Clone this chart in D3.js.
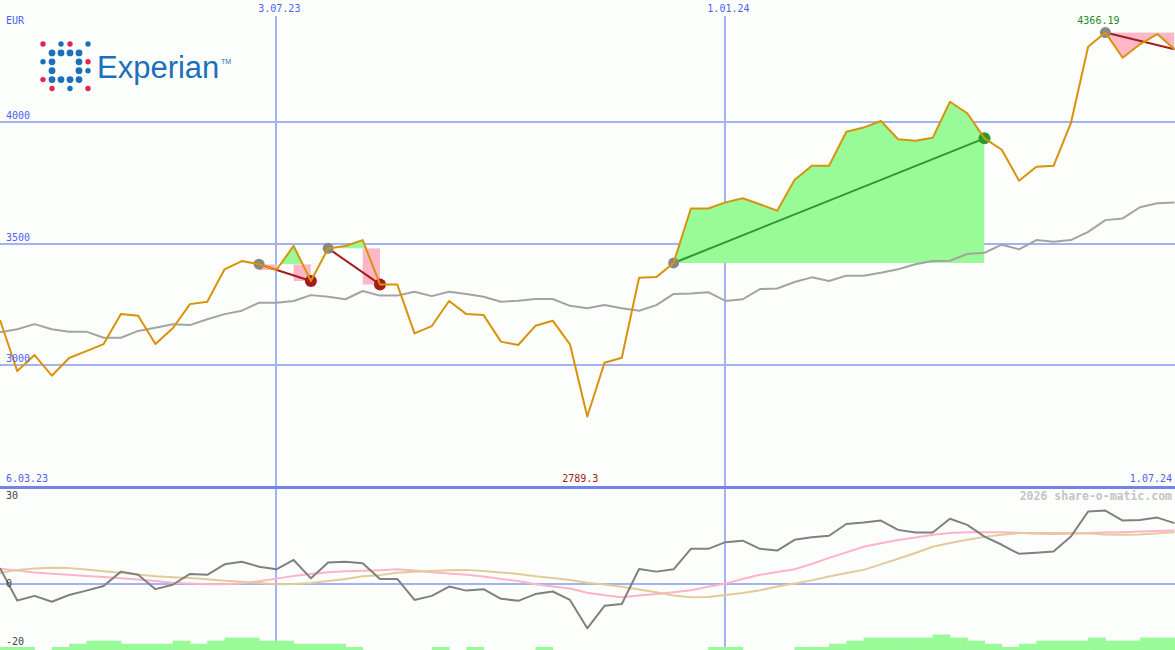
<!DOCTYPE html>
<html>
<head>
<meta charset="utf-8">
<script src="https://d3js.org/d3.v7.min.js"></script>
<style>
  html, body { margin: 0; padding: 0; background: #fcfefc; }
  svg { display: block; }
  .lbl { font-family: 'DejaVu Sans Mono', monospace; font-size: 10px; }
</style>
</head>
<body>
<div id="chart"></div>
<script>
// weekly closes, EUR (13.03.23 .. 1.07.24)
const firstWeek = new Date(2023, 2, 13)
const lastWeek = new Date(2024, 6, 1)
const dates = d3.timeMonday.range(firstWeek, d3.timeDay.offset(lastWeek, 1))

const price = [3186, 2976, 3042, 2957, 3030, 3058, 3087, 3210, 3203, 3087,
  3152, 3251, 3261, 3394, 3428, 3415, 3391, 3490, 3346, 3480,
  3490, 3514, 3332, 3332, 3131, 3161, 3264, 3210, 3206, 3097,
  3083, 3162, 3183, 3086, 2789.3, 3010, 3031, 3359, 3362, 3420,
  3644, 3644, 3669, 3686, 3661, 3635, 3761, 3819, 3819, 3959,
  3976, 4003, 3928, 3922, 3934, 4082, 4035, 3932, 3885, 3758,
  3815, 3819, 3994, 4308, 4366.19, 4263, 4318, 4360, 4298]

const movingAvg = [3135, 3148, 3169, 3148, 3138, 3138, 3113, 3113, 3141, 3154,
  3168, 3165, 3189, 3210, 3224, 3257, 3257, 3264, 3288, 3281,
  3271, 3305, 3286, 3286, 3302, 3284, 3302, 3293, 3281, 3261,
  3265, 3272, 3272, 3244, 3234, 3247, 3234, 3224, 3247, 3293,
  3295, 3300, 3264, 3271, 3313, 3315, 3342, 3361, 3346, 3368,
  3368, 3380, 3394, 3415, 3428, 3429, 3457, 3462, 3495, 3476,
  3514, 3507, 3514, 3548, 3596, 3603, 3649, 3665, 3668]

// lower panel
const momentum = [5.3, -5.8, -4.2, -6.2, -3.9, -2.4, -0.8, 4.1, 3.0, -1.9,
  -0.4, 3.3, 3.0, 6.6, 7.5, 5.8, 4.9, 8.1, 1.8, 7.2,
  7.5, 7.0, 1.6, 1.6, -5.6, -4.2, -1.0, -2.4, -1.9, -5.2,
  -5.9, -3.6, -2.7, -5.6, -15.3, -7.6, -7.0, 5.0, 4.1, 4.9,
  11.9, 11.9, 14.2, 14.7, 11.9, 11.3, 15.0, 15.9, 16.4, 20.4,
  20.9, 21.6, 18.4, 17.5, 17.5, 22.2, 20.1, 16.1, 13.3, 10.2,
  10.6, 11.0, 16.1, 24.7, 25.0, 21.6, 21.8, 22.6, 20.7]

const signalFast = [5.1, 4.5, 3.8, 3.4, 3.0, 2.6, 2.3, 1.8, 1.4, 0.9,
  0.3, 0.0, -0.2, -0.2, 0.1, 0.8, 1.7, 2.6, 3.3, 3.9,
  4.2, 4.4, 4.6, 4.9, 4.5, 3.9, 3.5, 3.0, 2.4, 1.6,
  0.9, -0.2, -1.0, -1.7, -3.1, -4.0, -4.7, -4.1, -3.6, -3.0,
  -2.3, -1.1, 0.0, 1.6, 3.0, 4.0, 4.9, 6.7, 8.8, 10.7,
  12.6, 13.8, 14.9, 15.8, 16.7, 17.3, 17.6, 17.6, 17.6, 17.4,
  17.1, 17.0, 17.1, 17.3, 17.5, 17.6, 17.8, 18.0, 18.2]

const signalSlow = [3.6, 4.7, 5.2, 5.4, 5.3, 4.8, 4.2, 3.7, 3.1, 2.5,
  2.2, 1.9, 1.5, 1.0, 0.6, 0.2, -0.2, -0.1, 0.2, 0.9,
  1.6, 2.5, 2.9, 3.7, 4.1, 4.3, 4.6, 4.7, 4.3, 3.8,
  3.3, 2.5, 1.9, 1.2, 0.3, -0.3, -1.1, -2.0, -3.0, -4.1,
  -4.7, -4.6, -3.9, -3.2, -2.3, -1.0, 0.0, 1.1, 2.4, 3.6,
  4.7, 6.6, 8.5, 10.5, 12.6, 13.9, 15.0, 16.0, 16.7, 17.3,
  17.3, 17.3, 17.3, 17.2, 16.8, 16.7, 16.8, 17.2, 17.6]

const volume = [1, 1, 0, 1, 2, 3, 3, 2, 2, 2,
  3, 2, 3, 4, 4, 3, 3, 2, 2, 2,
  1, 0, 0, 0, 0, 1, 0, 1, 0, 0,
  0, 1, 0, 0, 0, 0, 0, 0, 0, 0,
  0, 1, 1, 0, 0, 0, 1, 1, 2, 3,
  4, 4, 4, 4, 5, 4, 3, 2, 1, 2,
  3, 3, 3, 4, 3, 3, 4, 4, 4]

// trades: index of entry / exit week (null = still open)
const trades = [
  { entry: 15, exit: 18 },
  { entry: 19, exit: 22 },
  { entry: 39, exit: 57 },
  { entry: 64, exit: null }
]

const priceTicks = [3000, 3500, 4000]
const indicatorTicks = [30, 0, -20]
const dateTicks = [new Date(2023, 6, 3), new Date(2024, 0, 1)]
const rangeLabels = ['6.03.23', '1.07.24']
const currency = 'EUR'
const credit = '2026 share-o-matic.com'

const width = 1175, height = 650, mainBottom = 487

let svg, x, yMain, yInd, yVol

function buildSVG() {
  svg = d3.select('#chart').append('svg')
    .attr('width', width).attr('height', height)
  svg.append('rect').attr('width', width).attr('height', height).attr('fill', '#fcfefc')
}

function buildScales() {
  x = d3.scaleTime().domain([firstWeek, lastWeek]).range([0, 1174.5])
  yMain = d3.scaleLinear().domain([2500, 4500]).range([mainBottom, 0])
  yInd = d3.scaleLinear().domain([-20, 30]).range([642, 496])
  yVol = d3.scaleLinear().domain([0, 5]).range([height, height - 15.5])
}

function drawGrid() {
  const g = svg.append('g').classed('grid', true)
    .attr('stroke', '#a4b2f2').attr('stroke-width', 2).attr('shape-rendering', 'crispEdges')

  g.selectAll('.vline').data(dateTicks).enter().append('line')
    .attr('x1', d => Math.round(x(d))).attr('x2', d => Math.round(x(d)))
    .attr('y1', 16).attr('y2', height)

  g.selectAll('.hline').data(priceTicks).enter().append('line')
    .attr('x1', 0).attr('x2', width)
    .attr('y1', d => Math.round(yMain(d))).attr('y2', d => Math.round(yMain(d)))

  g.append('line')
    .attr('x1', 0).attr('x2', width)
    .attr('y1', Math.round(yInd(0))).attr('y2', Math.round(yInd(0)))

  svg.append('line')
    .attr('x1', 0).attr('x2', width).attr('y1', mainBottom).attr('y2', mainBottom)
    .attr('stroke', '#7383ea').attr('stroke-width', 3).attr('shape-rendering', 'crispEdges')
}

function drawTradeFills() {
  const defs = svg.append('defs')
  const g = svg.append('g').classed('trade-fills', true)

  trades.forEach((t, k) => {
    const end = t.exit === null ? price.length - 1 : t.exit
    const idx = d3.range(t.entry, end + 1)
    const level = yMain(price[t.entry])
    const x0 = x(dates[t.entry]), x1 = x(dates[end])

    defs.append('clipPath').attr('id', 'up' + k).append('rect')
      .attr('x', x0).attr('y', 0).attr('width', x1 - x0).attr('height', level)
    defs.append('clipPath').attr('id', 'down' + k).append('rect')
      .attr('x', x0).attr('y', level).attr('width', x1 - x0).attr('height', mainBottom - level)

    const areaUp = d3.area()
      .x(i => x(dates[i])).y0(level).y1(i => yMain(price[i]))
    // closed trades show the drawdown in steps, the open one follows the price
    const areaDown = d3.area()
      .curve(t.exit === null ? d3.curveLinear : d3.curveStepBefore)
      .x(i => x(dates[i])).y0(level).y1(i => yMain(price[i]))

    g.append('path').datum(idx)
      .attr('d', areaUp).attr('fill', '#98fb98').attr('clip-path', `url(#up${k})`)
    g.append('path').datum(idx)
      .attr('d', areaDown).attr('fill', '#ffb6c8').attr('clip-path', `url(#down${k})`)
  })
}

function drawLine(data, scale, color, w) {
  const line = d3.line().x((d, i) => x(dates[i])).y(d => scale(d))
  svg.append('path').datum(data)
    .attr('d', line).attr('fill', 'none')
    .attr('stroke', color).attr('stroke-width', w)
    .attr('stroke-linejoin', 'round')
}

function drawTrades() {
  const g = svg.append('g').classed('trades', true)
  trades.forEach(t => {
    const end = t.exit === null ? price.length - 1 : t.exit
    const win = price[end] > price[t.entry]
    const col = win ? '#2a9a2a' : '#a51c1c'
    g.append('line')
      .attr('x1', x(dates[t.entry])).attr('y1', yMain(price[t.entry]))
      .attr('x2', x(dates[end])).attr('y2', yMain(price[end]))
      .attr('stroke', col).attr('stroke-width', 2)
    g.append('circle')
      .attr('cx', x(dates[t.entry])).attr('cy', yMain(price[t.entry]))
      .attr('r', 5.5).attr('fill', '#888')
    if (t.exit !== null) {
      g.append('circle')
        .attr('cx', x(dates[end])).attr('cy', yMain(price[end]))
        .attr('r', 6).attr('fill', col)
    }
  })
}

function drawVolume() {
  const step = x(dates[1]) - x(dates[0])
  svg.append('g').classed('volume', true)
    .selectAll('rect').data(volume).enter().append('rect')
      .attr('x', (d, i) => x(dates[i]))
      .attr('y', d => yVol(d))
      .attr('width', step + 0.5)
      .attr('height', d => height - yVol(d))
      .attr('fill', '#98fb98')
}

function drawLabels() {
  const fmt = d3.timeFormat('%-d.%m.%y')
  const g = svg.append('g').classed('lbl', true)
  const blue = '#4f5ff0'

  g.selectAll('.date').data(dateTicks).enter().append('text')
    .attr('x', d => x(d) + 3).attr('y', 12)
    .attr('text-anchor', 'middle').attr('fill', blue).text(fmt)

  g.selectAll('.pt').data(priceTicks).enter().append('text')
    .attr('x', 6).attr('y', d => yMain(d) - 3)
    .attr('fill', blue).text(d => d)

  g.append('text').attr('x', 6).attr('y', 24).attr('fill', blue).text(currency)

  g.append('text').attr('x', 6).attr('y', 482).attr('fill', blue).text(rangeLabels[0])
  g.append('text').attr('x', 1172).attr('y', 482).attr('text-anchor', 'end')
    .attr('fill', blue).text(rangeLabels[1])

  g.selectAll('.it').data(indicatorTicks).enter().append('text')
    .attr('x', 6).attr('y', d => yInd(d) + 3)
    .attr('fill', '#444').text(d => d)

  // extremes
  const iMax = d3.maxIndex(price), iMin = d3.minIndex(price)
  g.append('text').attr('x', x(dates[iMax]) - 7).attr('y', 24)
    .attr('text-anchor', 'middle').attr('fill', '#228b22').text(price[iMax])
  g.append('text').attr('x', x(dates[iMin]) - 7).attr('y', 482)
    .attr('text-anchor', 'middle').attr('fill', '#a01818').text(price[iMin])

  g.append('text').attr('x', 1172).attr('y', 500).attr('text-anchor', 'end')
    .attr('fill', '#c4c4c4').style('font-size', '11.5px').style('font-weight', 'bold')
    .text(credit)
}

function drawLogo() {
  // Experian mark: [col, row, red?]
  const dots = [
    [0, 0, 1], [2, 0, 0], [3, 0, 1], [5, 0, 0],
    [1, 1, 0], [2, 1, 0], [3, 1, 0], [4, 1, 0],
    [0, 2, 0], [1, 2, 0], [4, 2, 0], [5, 2, 1],
    [1, 3, 0], [4, 3, 0], [5, 3, 0],
    [0, 4, 1], [1, 4, 0], [2, 4, 0], [3, 4, 0], [4, 4, 0],
    [1, 5, 1], [3, 5, 0], [5, 5, 1]
  ]
  const g = svg.append('g').attr('transform', 'translate(43,44)')
  g.selectAll('circle').data(dots).enter().append('circle')
    .attr('cx', d => d[0] * 9).attr('cy', d => d[1] * 8.9)
    .attr('r', d => (d[0] > 0 && d[0] < 5 && d[1] > 0 && d[1] < 5) ? 3.4 : 2.7)
    .attr('fill', d => d[2] ? '#e8234f' : '#1c6fbb')
  svg.append('text').attr('x', 97).attr('y', 78)
    .style('font-family', "'Liberation Sans', Arial, sans-serif").style('font-size', '31px')
    .attr('fill', '#1c6fbb').text('Experian')
  svg.append('text').attr('x', 221).attr('y', 64)
    .style('font-family', "'Liberation Sans', Arial, sans-serif").style('font-size', '7px')
    .attr('fill', '#1c6fbb').text('TM')
}

buildSVG()
buildScales()
drawGrid()
drawLogo()
drawTradeFills()
drawVolume()
drawLine(movingAvg, yMain, '#a3a3a3', 2)
drawTrades()
drawLine(price, yMain, '#d8930a', 2)
drawLine(signalFast, yInd, '#ffb3c8', 2)
drawLine(signalSlow, yInd, '#e3cb98', 2)
drawLine(momentum, yInd, '#808080', 2)
drawLabels()
</script>
</body>
</html>
